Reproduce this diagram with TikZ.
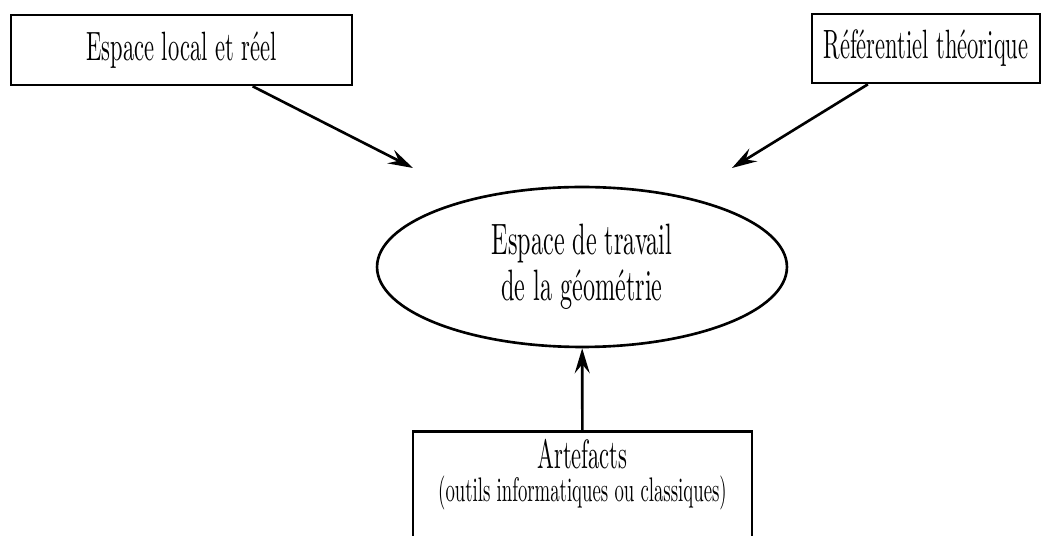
\documentclass[tikz,border=0pt]{standalone}
\usepackage{fontspec}
\setmainfont{lmroman10-regular.otf}[FakeStretch=0.55]
\usetikzlibrary{arrows.meta}
\usetikzlibrary{shapes.geometric,positioning}

\begin{document}
\begin{tikzpicture}[x=0.02cm,y=-0.02cm]
\useasboundingbox (0,0) rectangle (1042,536);
\begin{scope}[every node/.style={rectangle,draw,line width=1.5pt,inner sep=0pt,font=\fontsize{23.3}{28}\selectfont}]
    \node[minimum width=6.82cm,minimum height=1.4cm] (local) at (181.5,50) {Espace local et réel};
    \node[minimum width=4.56cm,minimum height=1.38cm] (theo) at (926,48.5) {Référentiel théorique};
    \node[ellipse,minimum width=8.2cm,minimum height=3.2cm,align=center,
          font=\fontsize{25}{26}\selectfont] (ws) at (582,267) {Espace de travail\\de la géométrie};
    \node[anchor=north,minimum width=6.78cm,align=center,inner ysep=0.25cm,
          text height=1.15cm,text depth=0.9cm,font=\fontsize{23.3}{18.5}\selectfont] (art) at (582.5,430)
          {Artefacts\\{\fontsize{19.4}{20}\selectfont (outils informatiques ou classiques)}};
\end{scope}
\begin{scope}[>={Stealth[length=0.5cm,width=0.3cm,inset=0.18cm]},
              every edge/.style={draw,line width=1.5pt}]
    \coordinate (tipL) at (413,168);
    \coordinate (tipR) at (732,168);
    \path [->] (local) edge (tipL);
    \path [->] (theo) edge (tipR);
    \path [->] (art) edge (ws);
\end{scope}
\end{tikzpicture}
\end{document}
